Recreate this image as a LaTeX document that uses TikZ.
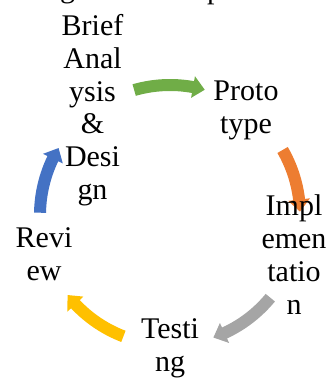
\documentclass[tikz,border=0pt]{standalone}
\usepackage{fontspec}
\setmainfont{Liberation Serif}
\definecolor{cgreen}{HTML}{70AD47}
\definecolor{corange}{HTML}{ED7D31}
\definecolor{cgray}{HTML}{A5A5A5}
\definecolor{cyellow}{HTML}{FFC000}
\definecolor{cblue}{HTML}{4472C4}
\newcommand{\stk}[1]{\begin{tabular}[t]{@{}c@{}}#1\end{tabular}}
\newcommand{\cycarrow}[3]{%
  \pgfmathsetmacro{\hb}{#3+5.3}%
  \fill[#1] ([shift={(#2:136pt)}]O) arc[start angle=#2, end angle=\hb, radius=136pt]
    -- ([shift={(\hb:141pt)}]O) -- ([shift={(#3:130pt)}]O)
    -- ([shift={(\hb:119pt)}]O) -- ([shift={(\hb:124pt)}]O)
    arc[start angle=\hb, end angle=#2, radius=124pt] -- cycle;}
\tikzset{lbl/.style={anchor=base, inner sep=0pt, font=\fontsize{30}{32.8}\selectfont}}
\begin{document}
\begin{tikzpicture}[x=1pt,y=1pt]
\useasboundingbox (0,0) rectangle (330,378);
\coordinate (O) at (170,163);
\cycarrow{cgreen}{106}{74.5}
\cycarrow{corange}{30}{1.5}
\cycarrow{cgray}{-39.5}{-70.5}
\cycarrow{cyellow}{-111}{-142}
\cycarrow{cblue}{179}{149}
\node[lbl] (a) at (92.5,342.5) {\stk{Brief\\Anal\\ysis\\\&\\Desi\\gn}};
\node[lbl] (b) at (246,277) {\stk{Proto\\type}};
\node[lbl] (c) at (294,162) {\stk{Impl\\emen\\tatio\\n}};
\node[lbl] (d) at (170,39) {\stk{Testi\\ng}};
\node[lbl] (e) at (44,130) {\stk{Revi\\ew}};
\node[lbl] (fg) at (67.5,380.5) {g};
\node[lbl] (fp) at (214.5,379.5) {p};
\end{tikzpicture}
\end{document}
